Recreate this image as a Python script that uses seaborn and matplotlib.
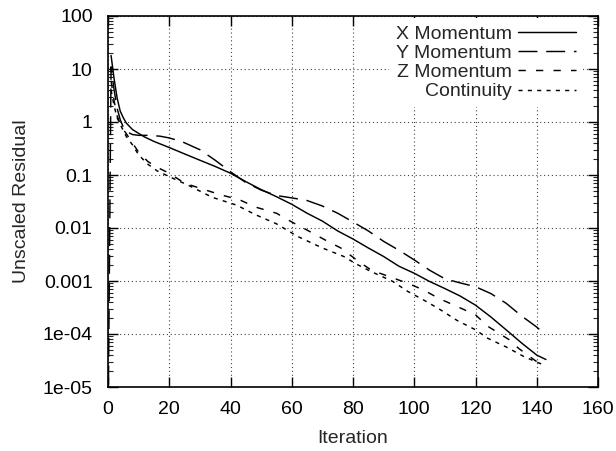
import matplotlib
matplotlib.use("Agg")
import matplotlib.pyplot as plt
import matplotlib.ticker as mticker
import seaborn as sns
import pandas as pd
import numpy as np

# ---- data ----
x_iter = [1, 2, 3, 4, 5, 6, 8, 10, 12, 15, 20, 25, 30, 35, 40, 45, 50, 55, 60, 65,
          70, 75, 80, 85, 90, 95, 100, 105, 110, 115, 120, 125, 130, 135, 140, 143]
x_mom = [18, 6.5, 2.8, 1.6, 1.2, 0.95, 0.72, 0.61, 0.52, 0.43, 0.33, 0.25, 0.19, 0.145,
         0.108, 0.075, 0.053, 0.039, 0.028, 0.019, 0.0135, 0.0088, 0.0062, 0.0042,
         0.0029, 0.0019, 0.0014, 0.00098, 0.00072, 0.00052, 0.00035, 0.00021, 0.00012,
         0.000068, 0.000040, 0.000033]

y_iter = [0, 1, 2, 3, 4, 5, 6, 8, 10, 13, 17, 20, 24, 30, 35, 40, 45, 50, 55, 60, 65,
          70, 75, 80, 85, 90, 95, 100, 105, 110, 115, 120, 125, 130, 135, 140, 143]
y_mom = [1e-6, 11, 4, 1.8, 1.1, 0.8, 0.66, 0.58, 0.56, 0.56, 0.54, 0.50, 0.43, 0.30,
         0.19, 0.115, 0.072, 0.052, 0.041, 0.037, 0.033, 0.026, 0.019, 0.013, 0.0088,
         0.0056, 0.0038, 0.0025, 0.0016, 0.0011, 0.00092, 0.00078, 0.00058, 0.00038,
         0.00022, 0.000135, 0.000095]

z_iter = [1, 2, 3, 4, 5, 6, 8, 10, 13, 16, 20, 25, 31, 37, 43, 48, 55, 60, 66, 71, 76,
          82, 86, 92, 98, 103, 108, 114, 120, 124, 131, 134, 140, 142]
z_mom = [6, 2.5, 1.3, 0.9, 0.72, 0.6, 0.4, 0.27, 0.18, 0.14, 0.108, 0.07, 0.054, 0.042,
         0.034, 0.025, 0.019, 0.013, 0.0085, 0.0059, 0.0042, 0.0023, 0.0016, 0.0012,
         0.0009, 0.00068, 0.00047, 0.00033, 0.00023, 0.00014, 0.000078, 0.000054,
         0.000030, 0.000025]

c_iter = [1, 2, 3, 4, 6, 8, 10, 13, 16, 20, 26, 34, 42, 48, 55, 62, 70, 77, 81, 86, 93,
          98, 103, 108, 114, 120, 124, 130, 136, 143]
continuity = [4, 2, 1.2, 0.9, 0.53, 0.37, 0.24, 0.16, 0.12, 0.093, 0.065, 0.038, 0.027,
              0.018, 0.012, 0.0069, 0.0042, 0.0029, 0.0021, 0.0015, 0.00098, 0.00063,
              0.00044, 0.0003, 0.00018, 0.00012, 0.000083, 0.000057, 0.000037, 0.000025]

series_names = ["X Momentum", "Y Momentum", "Z Momentum", "Continuity"]
y_ticks = [1e-5, 1e-4, 1e-3, 1e-2, 1e-1, 1, 10, 100]
y_tick_labels = ["1e-05", "1e-04", "0.001", "0.01", "0.1", "1", "10", "100"]
x_ticks = [0, 20, 40, 60, 80, 100, 120, 140, 160]

# ---- style ----
sns.set_theme(style="white")
plt.rcParams["font.family"] = ["Liberation Sans", "DejaVu Sans"]
FS = 14
plt.rcParams["font.size"] = FS

fig = plt.figure(figsize=(6.16, 4.51), dpi=100)
ax = fig.add_axes([108 / 616, 1 - 387 / 451, (598 - 108) / 616, (387 - 16) / 451])

styles = [
    dict(linestyle="-"),
    dict(linestyle=(0, (13, 6))),
    dict(linestyle=(0, (5, 7))),
    dict(linestyle=(0, (2.8, 3.6))),
]
datasets = [(x_iter, x_mom), (y_iter, y_mom), (z_iter, z_mom), (c_iter, continuity)]
for name, (xs, ys), st in zip(series_names, datasets, styles):
    df = pd.DataFrame({"Iteration": xs, "Residual": ys})
    sns.lineplot(data=df, x="Iteration", y="Residual", ax=ax, color="black",
                 linewidth=1.05, label=name, estimator=None, sort=False, **st)

ax.set_yscale("log")
ax.set_xlim(0, 160)
ax.set_ylim(1e-5, 100)
ax.set_xticks(x_ticks)
ax.set_xticklabels([str(t) for t in x_ticks])
ax.set_yticks(y_ticks)
ax.set_yticklabels(y_tick_labels)
ax.yaxis.set_minor_locator(mticker.LogLocator(base=10, subs=np.arange(2, 10), numticks=20))
ax.yaxis.set_minor_formatter(mticker.NullFormatter())
ax.xaxis.set_minor_locator(mticker.NullLocator())

ax.tick_params(axis="both", which="major", direction="in", length=7, width=1.0,
               top=True, right=True, bottom=True, left=True, labelsize=FS, colors="black")
ax.tick_params(axis="y", which="major", pad=11)
ax.tick_params(axis="x", which="major", pad=10)
ax.tick_params(axis="y", which="minor", direction="in", length=3.5, width=0.8,
               left=True, right=True)
for sp in ax.spines.values():
    sp.set_color("black")
    sp.set_linewidth(1.2)

ax.grid(True, which="major", color="#444444", linestyle=(0, (1, 2.5)), linewidth=0.8)
ax.set_axisbelow(True)

ax.set_xlabel("Iteration", fontsize=FS, labelpad=9)
ax.set_ylabel("Unscaled Residual", fontsize=FS, labelpad=9)

leg = ax.legend(loc="upper right", bbox_to_anchor=(583 / 616, 1 - 18.5 / 451),
                bbox_transform=fig.transFigure, frameon=True, facecolor="white",
                edgecolor="none", framealpha=1, fancybox=False, borderpad=0.35,
                markerfirst=False, handlelength=3.0, handletextpad=0.3,
                labelspacing=0.08, borderaxespad=0, fontsize=FS)
leg.set_zorder(5)

fig.savefig("out.png", dpi=100, facecolor="white")
